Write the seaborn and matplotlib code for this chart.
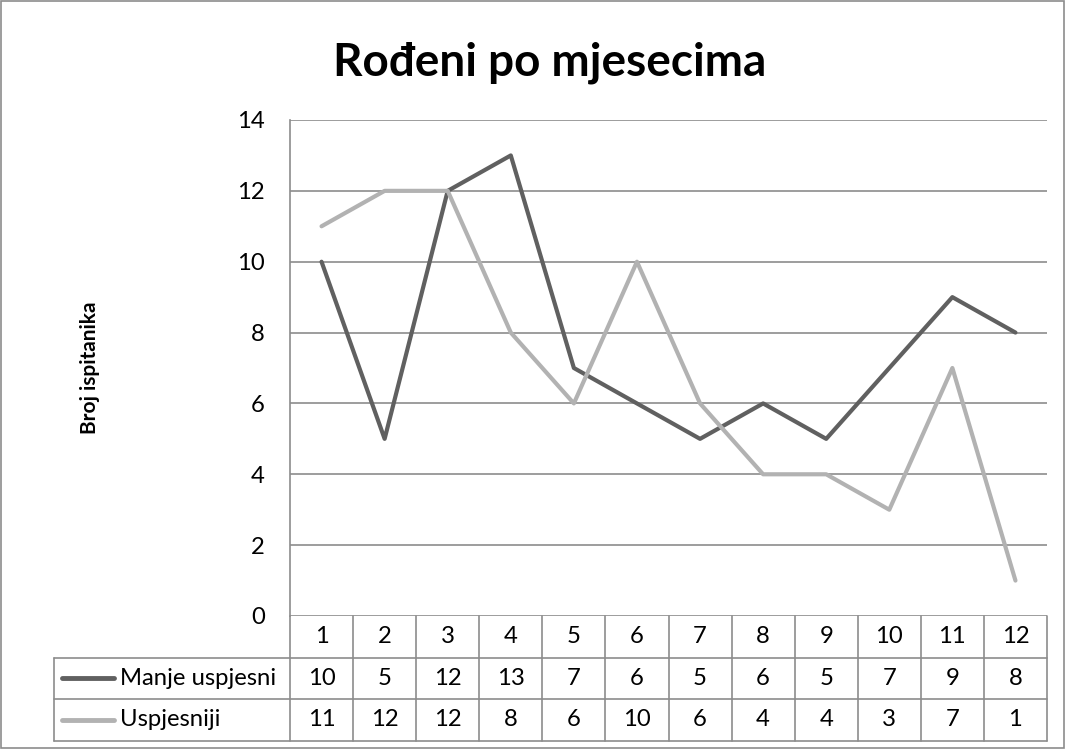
import numpy as np
import pandas as pd
import matplotlib
matplotlib.use("Agg")
import matplotlib.pyplot as plt
import matplotlib.transforms as mtransforms
import seaborn as sns

months = list(range(1, 13))
manje_uspjesni = [10, 5, 12, 13, 7, 6, 5, 6, 5, 7, 9, 8]
uspjesniji = [11, 12, 12, 8, 6, 10, 6, 4, 4, 3, 7, 1]
series_names = ["Manje uspjesni", "Uspjesniji"]
series_colors = ["#606060", "#b2b2b2"]
y_ticks = [0, 2, 4, 6, 8, 10, 12, 14]

df = pd.DataFrame({"Mjesec": months * 2,
                   "Broj": manje_uspjesni + uspjesniji,
                   "Grupa": [series_names[0]] * 12 + [series_names[1]] * 12})

sns.set_style("white")
plt.rcParams['font.family'] = ['Lato', 'DejaVu Sans']
plt.rcParams['text.color'] = 'black'
plt.rcParams['ytick.color'] = 'black'

W, H = 1066, 749
fig = plt.figure(figsize=(W / 100, H / 100), dpi=100)

# pixel layout
left, right, top, bottom = 290, 1047, 120, 616
row_h = 41.5
fs = 17.2
ax = fig.add_axes([left / W, 1 - bottom / H, (right - left) / W, (bottom - top) / H])

sns.lineplot(data=df, x="Mjesec", y="Broj", hue="Grupa", palette=series_colors,
             linewidth=3, ax=ax, legend=False)

grid_c = "#8c8c8c"
ax.set_xlim(0.5, 12.5)
ax.set_ylim(0, 14)
ax.set_yticks(y_ticks)
ax.set_yticklabels([str(t) for t in y_ticks], fontsize=fs)
ax.tick_params(axis="y", length=0, pad=18)
ax.set_xticks([])
ax.set_xlabel("")
ax.set_ylabel("")
for t in y_ticks:
    ax.axhline(t, color=grid_c, lw=1.2, zorder=0)
for s in ["top", "right", "bottom"]:
    ax.spines[s].set_visible(False)
ax.spines["left"].set_color(grid_c)
ax.spines["left"].set_linewidth(1.2)

fig.text(550 / W, 1 - 63 / H, "Rođeni po mjesecima", fontsize=33, fontweight="bold",
         ha="center", va="center")
fig.text(90 / W, 1 - 368 / H, "Broj ispitanika", fontsize=15, fontweight="bold",
         rotation=90, ha="center", va="center")

# data table under the chart: x in data coords, y in figure pixels
trans = mtransforms.blended_transform_factory(ax.transData, fig.dpi_scale_trans)
def fy(py):
    return (H - py) / 100

tb_top = bottom
r1 = tb_top + row_h
r2 = r1 + row_h
r3 = r2 + row_h
lkw = dict(color=grid_c, lw=1.2, transform=trans, clip_on=False)
fig_lkw = dict(color=grid_c, lw=1.2, transform=fig.dpi_scale_trans, clip_on=False)

# vertical column lines
for k in range(13):
    xk = 0.5 + k
    ax.add_line(plt.Line2D([xk, xk], [fy(tb_top), fy(r3)], **lkw))
# horizontal row lines across legend column
for py in [r1, r2, r3]:
    fig.add_artist(plt.Line2D([54 / 100, right / 100], [fy(py), fy(py)], **fig_lkw))
fig.add_artist(plt.Line2D([54 / 100, 54 / 100], [fy(r1), fy(r3)], **fig_lkw))

for i, m in enumerate(months):
    ax.text(m, fy(tb_top + row_h / 2), str(m), transform=trans, ha="center",
            va="center", fontsize=fs)
    ax.text(m, fy(r1 + row_h / 2), str(manje_uspjesni[i]), transform=trans,
            ha="center", va="center", fontsize=fs)
    ax.text(m, fy(r2 + row_h / 2), str(uspjesniji[i]), transform=trans,
            ha="center", va="center", fontsize=fs)

for j, (name, col) in enumerate(zip(series_names, series_colors)):
    yc = fy(r1 + row_h * (j + 0.5))
    fig.add_artist(plt.Line2D([62 / 100, 114 / 100], [yc, yc], color=col, lw=3.5,
                              solid_capstyle="round",
                              transform=fig.dpi_scale_trans))
    fig.text(120 / 100, yc, name, transform=fig.dpi_scale_trans, ha="left",
             va="center", fontsize=fs)

# outer border of chart
fig.add_artist(plt.Rectangle((0.001, 0.001), 0.997, 0.997, fill=False,
                             edgecolor="#8c8c8c", lw=1.2, transform=fig.transFigure))

fig.savefig("out.png", dpi=100)
